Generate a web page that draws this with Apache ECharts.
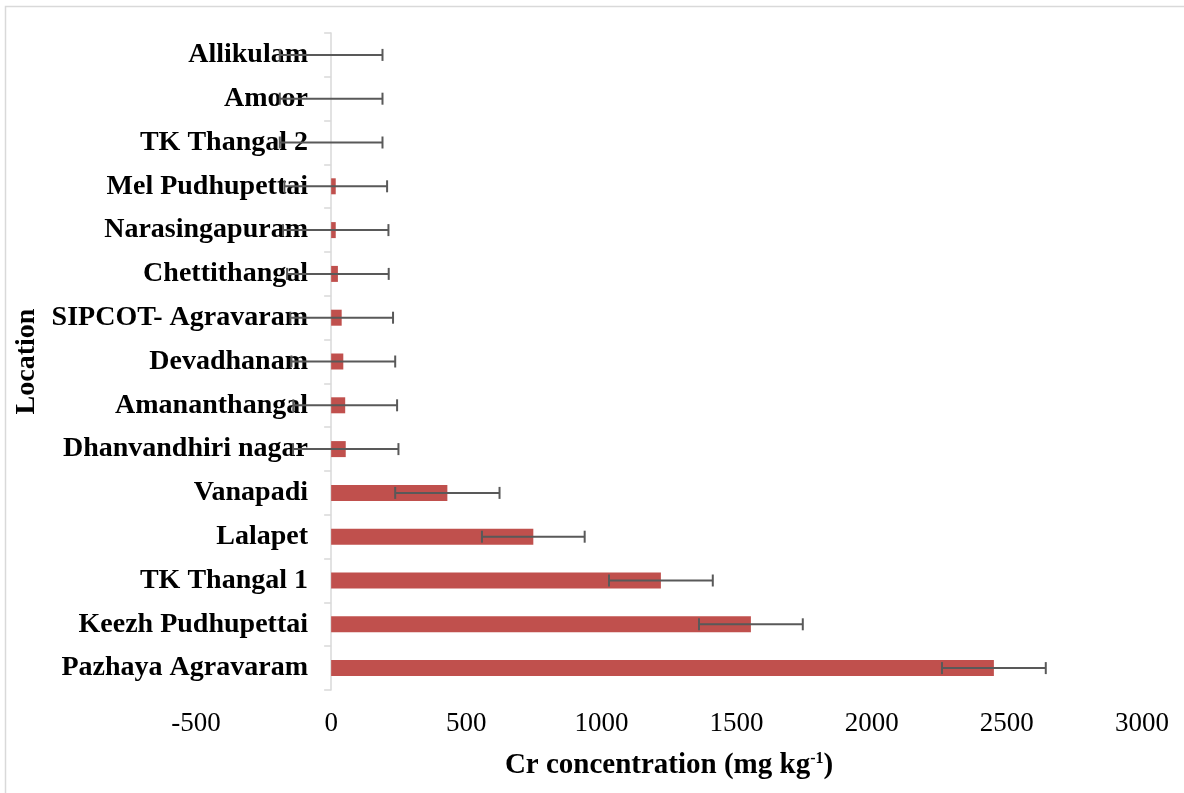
<!DOCTYPE html>
<html>
<head>
<meta charset="utf-8">
<title>Cr concentration by location</title>
<script src="https://cdn.jsdelivr.net/npm/echarts@6/dist/echarts.min.js"></script>
<style>
  html, body { margin: 0; padding: 0; background: #ffffff; }
  #chart { width: 1184px; height: 793px; }
</style>
</head>
<body>
<div id="chart"></div>
<script>
// Sampling locations, listed bottom to top on the category axis
const locations = [
  'Pazhaya Agravaram', 'Keezh Pudhupettai', 'TK Thangal 1', 'Lalapet', 'Vanapadi',
  'Dhanvandhiri nagar', 'Amananthangal', 'Devadhanam', 'SIPCOT- Agravaram',
  'Chettithangal', 'Narasingapuram', 'Mel Pudhupettai', 'TK Thangal 2', 'Amoor', 'Allikulam'
];
// Mean Cr concentration (mg kg-1) at each location
const crMean = [2452, 1553, 1220, 748, 430, 54, 52, 45, 39, 25, 17, 17, 0, 0, 0];
// Error bar half-width (mg kg-1)
const crError = [192, 192, 192, 190, 193, 195, 192, 192, 190, 188, 195, 190, 190, 190, 190];
// Value axis ticks
const xTicks = [-500, 0, 500, 1000, 1500, 2000, 2500, 3000];

const serif = '"Liberation Serif", "Times New Roman", serif';
const errorData = crMean.map((v, i) => [v - crError[i], v + crError[i], i]);

const chart = echarts.init(document.getElementById('chart'));
chart.setOption({
  backgroundColor: '#ffffff',
  animation: false,
  graphic: [{
    type: 'rect',
    shape: { x: 5.5, y: 6.5, width: 1200, height: 800 },
    style: { fill: 'none', stroke: '#d9d9d9', lineWidth: 1.5 },
    silent: true
  }],
  grid: { left: 196, right: 42, top: 33, bottom: 103, containLabel: false, outerBoundsMode: 'none' },
  xAxis: {
    type: 'value',
    min: xTicks[0],
    max: xTicks[xTicks.length - 1],
    interval: 500,
    axisLine: { show: false },
    axisTick: { show: false },
    splitLine: { show: false },
    axisLabel: {
      fontFamily: serif, fontSize: 27, color: '#000000', margin: 20,
      formatter: function (v) { return String(v); }
    },
    name: '{t|Cr concentration (mg kg}{s|-1}{t|)}',
    nameLocation: 'middle',
    nameGap: 61,
    nameTextStyle: {
      rich: {
        t: { fontFamily: serif, fontSize: 29, fontWeight: 'bold', color: '#000000' },
        s: { fontFamily: serif, fontSize: 16, fontWeight: 'bold', color: '#000000', verticalAlign: 'top', padding: [0, 0, 10, 0] }
      }
    }
  },
  yAxis: {
    type: 'category',
    data: locations,
    axisLine: { onZero: true, lineStyle: { color: '#d9d9d9', width: 1.5 } },
    axisTick: { show: true, length: 7, lineStyle: { color: '#d9d9d9', width: 1.5 } },
    // labels sit just left of the zero line, inside the plot's negative range
    axisLabel: { fontFamily: serif, fontSize: 28, fontWeight: 'bold', color: '#000000', margin: -112 },
    name: 'Location',
    nameLocation: 'middle',
    nameGap: 155,
    nameMoveOverlap: false,
    nameTextStyle: { fontFamily: serif, fontSize: 28, fontWeight: 'bold', color: '#000000' }
  },
  series: [
    {
      type: 'bar',
      data: crMean,
      barWidth: 16,
      itemStyle: { color: '#c0504d' },
      z: 2
    },
    {
      type: 'custom',
      data: errorData,
      encode: { x: [0, 1], y: 2 },
      z: 3,
      renderItem: function (params, api) {
        const idx = api.value(2);
        const lo = api.coord([api.value(0), idx]);
        const hi = api.coord([api.value(1), idx]);
        const cap = 6;
        const style = { stroke: '#595959', lineWidth: 2 };
        return {
          type: 'group',
          children: [
            { type: 'line', shape: { x1: lo[0], y1: lo[1], x2: hi[0], y2: hi[1] }, style: style },
            { type: 'line', shape: { x1: lo[0], y1: lo[1] - cap, x2: lo[0], y2: lo[1] + cap }, style: style },
            { type: 'line', shape: { x1: hi[0], y1: hi[1] - cap, x2: hi[0], y2: hi[1] + cap }, style: style }
          ]
        };
      }
    }
  ]
});
</script>
</body>
</html>
